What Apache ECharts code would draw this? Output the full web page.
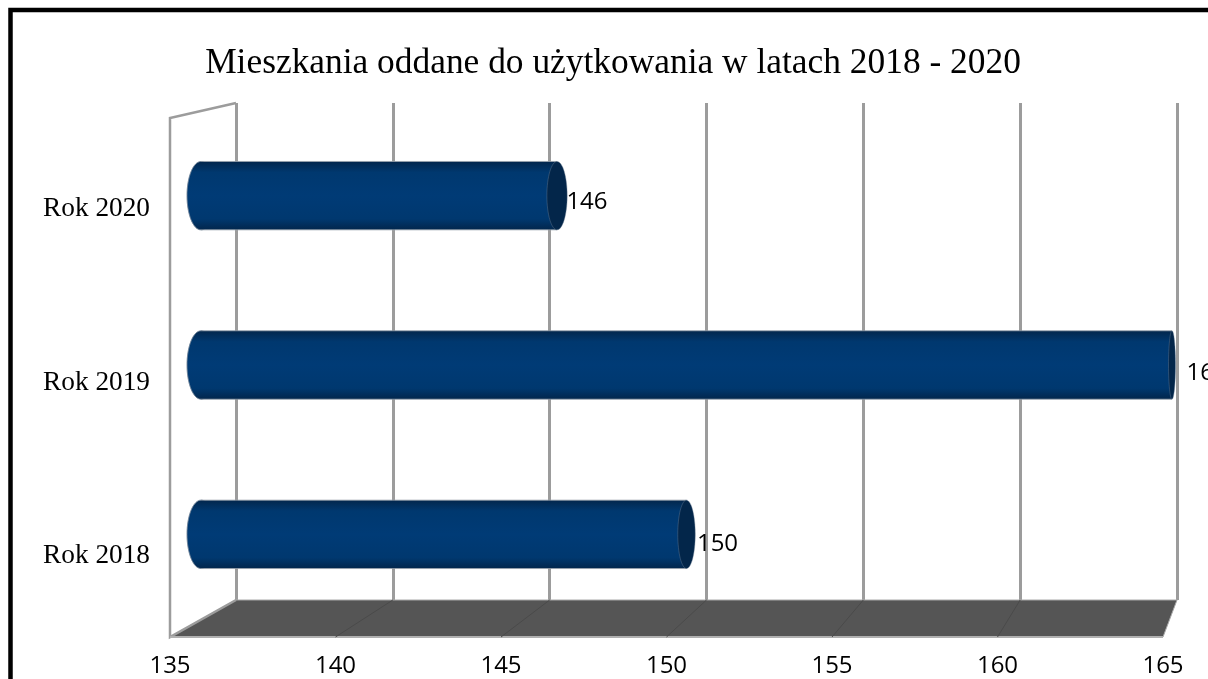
<!DOCTYPE html>
<html><head><meta charset="utf-8">
<style>html,body{margin:0;padding:0;background:#fff;overflow:hidden}#c{width:1208px;height:679px}</style>
<script src="https://cdn.jsdelivr.net/npm/echarts@6/dist/echarts.min.js"></script>
</head><body><div id="c"></div>
<script>
const categories = ['Rok 2018', 'Rok 2019', 'Rok 2020'];
const values = [150, 165, 146];
const axisMin = 135, axisMax = 165, axisStep = 5;
const chartTitle = 'Mieszkania oddane do użytkowania w latach 2018 - 2020';

const chart = echarts.init(document.getElementById('c'), null, {renderer: 'canvas'});
const hiddenX = gridIndex => ({type: 'value', gridIndex, min: axisMin, max: axisMax, interval: axisStep, show: false});
const hiddenY = gridIndex => ({type: 'category', gridIndex, data: categories, show: false});

function capRadius(v) { return 14 - 10.5 * (v - axisMin) / (axisMax - axisMin); }

function renderCylinder(params, api) {
  const v = api.value(0), c = api.value(1);
  const end = api.coord([v, c]), start = api.coord([axisMin, c]);
  const h = api.size([0, 1])[1] * 0.404;
  const fill = {type: 'linear', x: 0, y: 0, x2: 0, y2: 1, colorStops: [
    {offset: 0, color: '#02264c'}, {offset: 0.16, color: '#00386f'}, {offset: 0.5, color: '#003b76'},
    {offset: 0.84, color: '#00386f'}, {offset: 1, color: '#02264c'}]};
  const edge = {stroke: '#9aa3ad', lineWidth: 0.8};
  return {type: 'group', children: [
    {type: 'ellipse', shape: {cx: start[0], cy: start[1], rx: capRadius(axisMin), ry: h / 2}, style: {fill, stroke: '#6f8095', lineWidth: 0.5}},
    {type: 'rect', shape: {x: start[0], y: end[1] - h / 2, width: end[0] - start[0], height: h}, style: {fill}},
    {type: 'line', shape: {x1: start[0], y1: end[1] - h / 2, x2: end[0], y2: end[1] - h / 2}, style: edge},
    {type: 'line', shape: {x1: start[0], y1: end[1] + h / 2, x2: end[0], y2: end[1] + h / 2}, style: edge},
    {type: 'ellipse', shape: {cx: end[0], cy: end[1], rx: capRadius(v), ry: h / 2}, style: {fill: '#03264a', stroke: '#6f8095', lineWidth: 0.4}}
  ]};
}

chart.setOption({
  animation: false,
  backgroundColor: '#fff',
  title: {text: chartTitle, left: 608, top: 41, textAlign: 'center',
    textStyle: {fontFamily: 'Liberation Serif', fontSize: 35.4, fontWeight: 'normal', color: '#000'}},
  grid: [
    {left: 236, top: 103, width: 941, height: 497},      // back wall
    {left: 201, top: 111, width: 971, height: 508},      // cylinder plane
    {left: 170, top: 122, width: 993, height: 521},      // front edge, tick labels
    {left: 228, top: 116, width: 979, height: 514}       // value labels
  ],
  xAxis: [
    {type: 'value', gridIndex: 0, min: axisMin, max: axisMax, interval: axisStep,
      axisLine: {show: false}, axisTick: {show: false}, axisLabel: {show: false},
      splitLine: {show: true, lineStyle: {color: '#9c9c9c', width: 3}}},
    hiddenX(1),
    {type: 'value', gridIndex: 2, min: axisMin, max: axisMax, interval: axisStep,
      axisLine: {show: false}, axisTick: {show: false}, splitLine: {show: false},
      axisLabel: {show: true, margin: 11, fontFamily: 'Open Sans', fontSize: 24, color: '#000',
        showMinLabel: true, showMaxLabel: true, hideOverlap: false}},
    hiddenX(3)
  ],
  yAxis: [
    hiddenY(0), hiddenY(1),
    {type: 'category', gridIndex: 2, data: categories,
      axisLine: {show: false}, axisTick: {show: false}, splitLine: {show: false},
      axisLabel: {margin: 20, fontFamily: 'Liberation Serif', fontSize: 27.3, color: '#000'}},
    hiddenY(3)
  ],
  series: [
    {type: 'custom', xAxisIndex: 1, yAxisIndex: 1, clip: false, z: 3,
      data: values.map((v, i) => [v, i]), renderItem: renderCylinder},
    {type: 'scatter', xAxisIndex: 3, yAxisIndex: 3, symbolSize: 0, z: 4, clip: false,
      itemStyle: {opacity: 1},
      data: values.map((v, i) => [v, i]),
      label: {show: true, position: 'inside', formatter: p => String(p.value[0]),
        fontFamily: 'Open Sans', fontSize: 24, color: '#000'}}
  ]
});

// Floor, side wall and frame follow the three axis planes.
const backX = v => chart.convertToPixel({xAxisIndex: 0}, v);
const frontX = v => chart.convertToPixel({xAxisIndex: 2}, v);
const floorBack = 600, floorFront = 637, wallTop = 103, wallFrontTop = 118;
const ticks = [];
for (let t = axisMin; t <= axisMax; t += axisStep) ticks.push(t);
const wall = '#9c9c9c';
const graphics = [
  {type: 'polygon', z: 1, shape: {points: [[backX(axisMin), floorBack], [backX(axisMax), floorBack], [frontX(axisMax), floorFront], [frontX(axisMin), floorFront]]},
    style: {fill: '#555555', stroke: '#a8a8a8', lineWidth: 1}},
  {type: 'polyline', z: 1, shape: {points: [[backX(axisMin), floorBack], [frontX(axisMin), floorFront], [frontX(axisMin), wallFrontTop], [backX(axisMin), wallTop]]},
    style: {fill: null, stroke: wall, lineWidth: 2.5}},
  {type: 'line', z: 1, shape: {x1: frontX(axisMin), y1: floorFront, x2: frontX(axisMax), y2: floorFront}, style: {stroke: '#b0b0b0', lineWidth: 2}},
  {type: 'polyline', z: 5, shape: {points: [[10.5, 679], [10.5, 10], [1208, 10]]}, style: {fill: null, stroke: '#000', lineWidth: 4.5}}
];
ticks.slice(1, -1).forEach(t => graphics.push({type: 'line', z: 1,
  shape: {x1: backX(t), y1: floorBack, x2: frontX(t), y2: floorFront}, style: {stroke: '#4a4a4a', lineWidth: 1}}));
chart.setOption({graphic: graphics});
</script></body></html>
